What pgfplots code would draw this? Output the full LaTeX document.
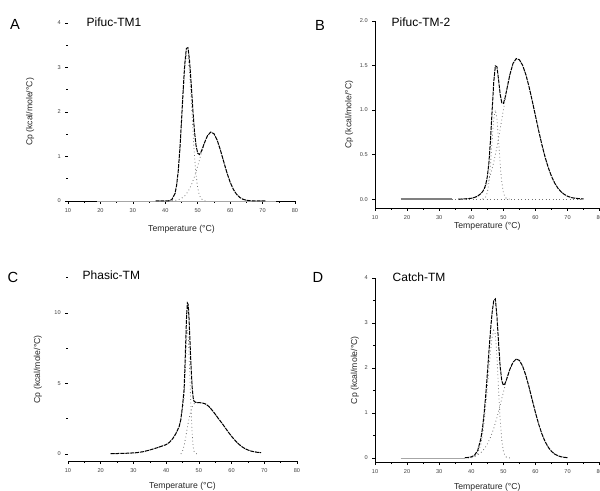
\documentclass[border=0pt]{standalone}
\usepackage{fontspec}
\setmainfont{Liberation Sans}
\usepackage{pgfplots}
\pgfplotsset{compat=1.18}

\pgfplotsset{
  dsc/.style={
    scale only axis, anchor=south west, clip=false,
    xmin=10, xmax=80, xtick={10,20,...,80}, minor x tick num=1,
    axis x line*=bottom, axis y line*=left,
    axis line style={-, line width=0.6pt},
    tick align=outside, major tick length=2pt, minor tick length=1.2pt,
    every tick/.style={black, line width=0.4pt},
    ticklabel style={font=\fontsize{4.2}{4.2}\selectfont, text=black!75},
    /pgf/number format/assume math mode=true,
    label style={font=\fontsize{6.5}{7}\selectfont, text=black!85},
    xlabel={Temperature (°C)},
    ylabel={Cp (kcal/mole/°C)},
  },
  tot/.style={black, line width=0.75pt, dash pattern=on 3pt off 0.7pt},
  cmp/.style={black!55, line width=0.6pt, dotted},
  base/.style={black!35, line width=0.6pt},
}

\begin{document}
\begin{tikzpicture}
\path[use as bounding box] (0,0) rectangle (450pt,368.25pt);

% ---------- A
\begin{axis}[dsc, at={(51pt,217.5pt)}, width=170.25pt, height=133.5pt,
  ymin=0, ymax=4, ytick={0,1,2,3,4}, minor y tick num=1,
  y axis line style={draw=none},
  x label style={at={(axis description cs:0.5,-0.157)}, anchor=center},
  y label style={at={(axis description cs:-0.167,0.5)}, anchor=center}]
\addplot[base] coordinates {(19,0) (74,0)};
\addplot[cmp] coordinates {(40,0) (41,0.002) (42,0.024) (43,0.158) (43.5,0.339) (44,0.653) (44.5,1.125) (45,1.737) (45.5,2.396) (46,2.960) (46.5,3.271) (47,3.235) (47.5,2.862) (48,2.266) (48.5,1.606) (49,1.019) (49.5,0.578) (50,0.293) (50.5,0.133) (51,0.054) (52,0.006) (53,0)};
\addplot[cmp] coordinates {(41,0.002) (42,0.005) (43,0.012) (44,0.028) (45,0.059) (46,0.115) (47,0.210) (48,0.351) (49,0.546) (50,0.784) (51,1.044) (52,1.286) (53,1.466) (54,1.547) (55,1.512) (56,1.368) (57,1.145) (58,0.888) (59,0.637) (60,0.423) (61,0.260) (62,0.148) (63,0.078) (64,0.038) (65,0.017) (66,0.007) (68,0.001)};
\addplot[tot] coordinates {(37,0) (38,0.002) (39,0.003) (40,0.003) (41,0.004) (42,0.029) (43,0.170) (43.5,0.357) (44,0.681) (44.5,1.167) (45,1.796) (45.5,2.479) (46,3.075) (46.5,3.427) (47,3.445) (47.5,3.138) (48,2.617) (48.5,2.049) (49,1.565) (49.5,1.237) (50,1.077) (50.5,1.044) (51,1.098) (51.5,1.188) (52,1.292) (53,1.466) (54,1.547) (55,1.512) (56,1.368) (57,1.145) (58,0.888) (59,0.637) (60,0.423) (61,0.260) (62,0.148) (63,0.078) (64,0.038) (65,0.017) (66,0.007) (68,0.001) (71,0)};
\end{axis}

% ---------- B
\begin{axis}[dsc, at={(281.25pt,212.25pt)}, width=168.5pt, height=140.25pt,
  ymin=-0.1, ymax=2.0, ytick={0,0.5,...,2},
  yticklabel style={/pgf/number format/.cd, fixed, fixed zerofill, precision=1},
  x label style={at={(axis description cs:0.5,-0.1)}, anchor=center},
  y label style={at={(axis description cs:-0.115,0.5)}, anchor=center}]
\addplot[black!50, line width=1.1pt] coordinates {(18,0) (34,0)};
\addplot[cmp] coordinates {(34,0) (75,0)};
\addplot[cmp] coordinates {(43.5,0.001) (44,0.006) (44.5,0.024) (45,0.074) (45.5,0.189) (46,0.392) (46.5,0.659) (47,0.901) (47.5,1.0) (48,0.901) (48.5,0.659) (49,0.392) (49.5,0.189) (50,0.074) (50.5,0.024) (51,0.006) (52,0)};
\addplot[cmp] coordinates {(36,0) (38,0.002) (40,0.009) (41,0.018) (42,0.034) (43,0.062) (44,0.107) (45,0.177) (46,0.277) (47,0.414) (48,0.585) (49,0.785) (50,1.001) (51,1.213) (52,1.394) (53,1.523) (54,1.578) (55,1.564) (56,1.502) (57,1.398) (58,1.261) (59,1.102) (60,0.934) (61,0.767) (62,0.611) (63,0.471) (64,0.352) (65,0.255) (66,0.179) (67,0.122) (68,0.081) (69,0.052) (70,0.032) (71,0.019) (72,0.011) (74,0.003) (75,0.002)};
\addplot[tot] coordinates {(36,0) (38,0.002) (40,0.009) (41,0.018) (42,0.034) (43,0.062) (43.5,0.083) (44,0.113) (44.5,0.163) (45,0.251) (45.5,0.412) (46,0.669) (46.5,1.000) (47,1.315) (47.5,1.495) (48,1.486) (48.5,1.341) (49,1.177) (49.5,1.082) (50,1.075) (50.5,1.133) (51,1.219) (52,1.394) (53,1.523) (54,1.578) (55,1.564) (56,1.502) (57,1.398) (58,1.261) (59,1.102) (60,0.934) (61,0.767) (62,0.611) (63,0.471) (64,0.352) (65,0.255) (66,0.179) (67,0.122) (68,0.081) (69,0.052) (70,0.032) (71,0.019) (72,0.011) (74,0.003) (75,0.002)};
\end{axis}

% ---------- C
\begin{axis}[dsc, at={(51pt,22.5pt)}, width=171.75pt, height=137.5pt,
  ymin=-0.5, ymax=12.5, ytick={0,5,10}, minor ytick={2.5,7.5,12.5},
  y axis line style={draw=none},
  x label style={at={(axis description cs:0.5,-0.136)}, anchor=center},
  y label style={at={(axis description cs:-0.131,0.5)}, anchor=center}]
\addplot[cmp] coordinates {(44.5,0) (45,0.2) (45.5,0.6) (46,1.2) (46.5,1.9) (47,2.5) (47.5,3.0) (48,3.35) (48.5,3.55) (49,3.62) (49.5,3.64) (50,3.64) (51,3.62) (52,3.55) (53,3.38) (54,3.12) (55,2.82) (56,2.5) (57,2.2) (58,1.88) (59,1.55) (60,1.25) (61,0.98) (62,0.74) (63,0.54) (64,0.39) (65,0.28) (66,0.2) (67,0.15) (68,0.11) (69,0.09)};
\addplot[cmp] coordinates {(23,0.02) (25,0.03) (27,0.04) (29,0.06) (31,0.09) (33,0.16) (35,0.28) (37,0.42) (39,0.58) (40,0.66) (41,0.82) (42,1.08) (43,1.45) (44,1.95) (44.5,2.45) (45,3.2) (45.5,4.0) (45.75,5.3) (46,6.8) (46.25,8.25) (46.5,8.8) (46.75,8.4) (47,7.1) (47.25,5.45) (47.5,3.8) (47.75,2.4) (48,1.25) (48.25,0.55) (48.5,0.2) (49,0.04) (49.5,0)};
\addplot[tot] coordinates {(23,0.02) (25,0.03) (27,0.04) (29,0.06) (31,0.09) (33,0.16) (35,0.28) (37,0.42) (39,0.58) (40,0.66) (41,0.82) (42,1.08) (43,1.45) (44,1.95) (44.5,2.45) (45,3.4) (45.5,4.6) (45.75,6.2) (46,8.0) (46.25,9.8) (46.5,10.7) (46.75,10.6) (47,9.6) (47.25,8.2) (47.5,6.8) (47.75,5.6) (48,4.6) (48.25,4.0) (48.5,3.75) (49,3.66) (49.5,3.64) (50,3.64) (51,3.62) (52,3.55) (53,3.38) (54,3.12) (55,2.82) (56,2.5) (57,2.2) (58,1.88) (59,1.55) (60,1.25) (61,0.98) (62,0.74) (63,0.54) (64,0.39) (65,0.28) (66,0.2) (67,0.15) (68,0.11) (69,0.09)};
\end{axis}

% ---------- D
\begin{axis}[dsc, at={(281.25pt,21.4pt)}, width=168.5pt, height=138.4pt,
  ymin=-0.1, ymax=4, ytick={0,1,2,3,4}, minor y tick num=1,
  x label style={at={(axis description cs:0.5,-0.136)}, anchor=center},
  y label style={at={(axis description cs:-0.089,0.5)}, anchor=center}]
\addplot[base] coordinates {(18,0) (38,0)};
\addplot[cmp] coordinates {(39,0.001) (40,0.004) (41,0.023) (42,0.097) (43,0.314) (43.5,0.515) (44,0.792) (44.5,1.146) (45,1.556) (45.5,1.986) (46,2.381) (46.5,2.682) (47,2.836) (47.5,2.757) (48,2.247) (48.5,1.521) (49,0.855) (49.5,0.399) (50,0.155) (50.5,0.050) (51,0.013) (52,0)};
\addplot[cmp] coordinates {(38,0.005) (39,0.010) (40,0.020) (41,0.038) (42,0.069) (43,0.119) (44,0.196) (45,0.308) (46,0.460) (47,0.659) (48,0.900) (49,1.173) (50,1.460) (51,1.734) (52,1.967) (53,2.127) (54,2.198) (55,2.167) (56,2.040) (57,1.833) (58,1.573) (59,1.287) (60,1.006) (61,0.751) (62,0.535) (63,0.363) (64,0.236) (65,0.146) (66,0.086) (67,0.049) (68,0.026) (69,0.013) (70,0.007)};
\addplot[tot] coordinates {(38,0.005) (39,0.011) (40,0.024) (41,0.061) (42,0.166) (43,0.433) (43.5,0.669) (44,0.988) (44.5,1.393) (45,1.864) (45.5,2.365) (46,2.841) (46.5,3.236) (47,3.495) (47.5,3.532) (48,3.147) (48.5,2.555) (49,2.028) (49.5,1.715) (50,1.615) (50.5,1.650) (51,1.747) (52,1.967) (53,2.127) (54,2.198) (55,2.167) (56,2.040) (57,1.833) (58,1.573) (59,1.287) (60,1.006) (61,0.751) (62,0.535) (63,0.363) (64,0.236) (65,0.146) (66,0.086) (67,0.049) (68,0.026) (69,0.013) (70,0.007)};
\end{axis}

% panel letters and titles
\node[font=\fontsize{11}{11}\selectfont] at (11.25pt,350.25pt) {A};
\node[font=\fontsize{9}{9}\selectfont, anchor=west] at (61.5pt,351.75pt) {Pifuc-TM1};
\node[font=\fontsize{11}{11}\selectfont] at (240pt,349.5pt) {B};
\node[font=\fontsize{9}{9}\selectfont, anchor=west] at (290.25pt,351.75pt) {Pifuc-TM-2};
\node[font=\fontsize{11}{11}\selectfont] at (9.75pt,160.5pt) {C};
\node[font=\fontsize{9}{9}\selectfont, anchor=west] at (58.5pt,162pt) {Phasic-TM};
\node[font=\fontsize{11}{11}\selectfont] at (238.5pt,160.5pt) {D};
\node[font=\fontsize{9}{9}\selectfont, anchor=west] at (291pt,160.5pt) {Catch-TM};
\end{tikzpicture}
\end{document}
